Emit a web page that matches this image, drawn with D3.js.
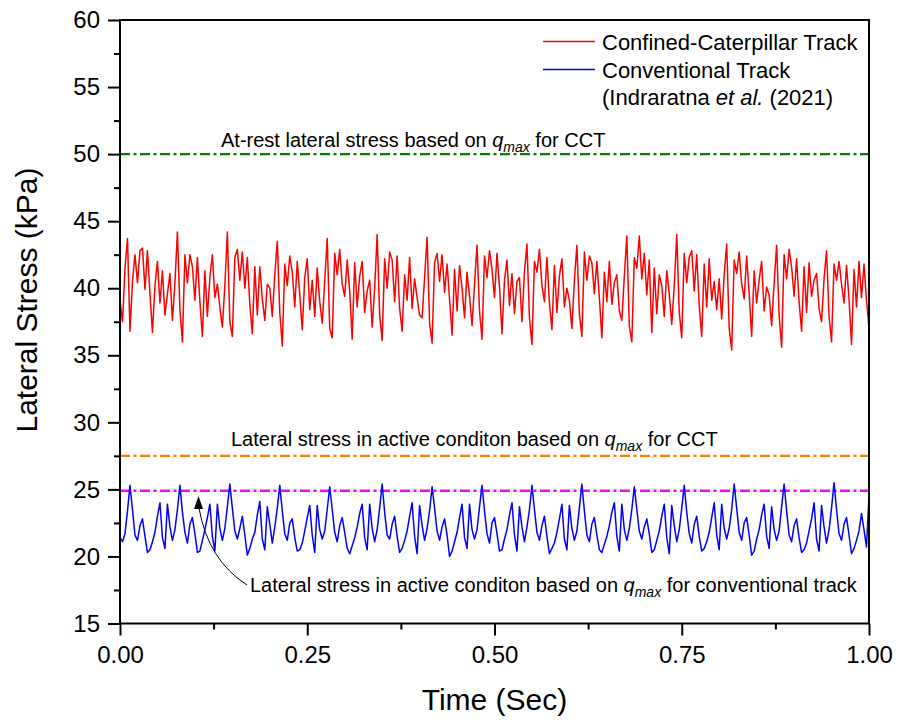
<!DOCTYPE html>
<html>
<head>
<meta charset="utf-8">
<script src="https://cdn.jsdelivr.net/npm/d3@7"></script>
<style>
  body { margin: 0; background: #fff; }
  svg text { font-family: "Liberation Sans", Arial, sans-serif; fill: #000; }
</style>
</head>
<body>
<div id="chart"></div>
<script>
// lateral stress (kPa), sampled evenly over 0..1 s
var redValues = [
  39.1, 37.5, 41.5,
  43.7, 36.8, 40.5, 42.5, 40.4, 42.8, 43.0, 39.9, 42.8, 39.6, 36.7, 40.2, 42.0, 38.9, 41.3, 38.0, 39.6, 41.1, 37.6, 40.4,
  44.2, 38.4, 36.0, 42.5, 40.4, 42.5, 41.6, 39.1, 42.3, 39.0, 36.4, 41.3, 37.9, 40.8, 42.5, 39.3, 40.3, 38.6, 37.1, 40.2,
  44.2, 37.5, 36.4, 42.3, 42.9, 40.6, 42.7, 40.0, 42.3, 38.8, 36.6, 41.6, 38.0, 41.6, 39.2, 37.6, 40.3, 40.0, 37.9, 41.0,
  43.5, 38.2, 35.7, 41.8, 40.2, 42.4, 41.2, 38.6, 42.0, 39.5, 36.9, 40.8, 42.2, 38.4, 40.6, 37.9, 41.5, 39.0, 37.4, 40.5,
  43.7, 37.0, 36.3, 42.6, 41.0, 42.9, 40.3, 39.4, 42.1, 39.8, 36.2, 41.9, 38.6, 40.9, 42.0, 38.2, 39.8, 40.6, 37.1, 40.0,
  44.0, 38.0, 36.1, 42.2, 40.0, 42.7, 42.1, 39.0, 42.4, 38.5, 36.8, 41.0, 39.1, 42.3, 38.5, 40.7, 39.3, 38.0, 37.8, 40.8,
  43.8, 37.4, 35.9, 41.9, 42.6, 40.5, 42.5, 39.7, 41.8, 39.2, 36.5, 41.4, 38.3, 41.7, 40.0, 37.8, 41.2, 39.4, 37.2, 40.3,
  43.2, 38.3, 36.2, 42.4, 40.8, 42.8, 41.4, 39.3, 42.6, 40.1, 36.6, 40.6, 42.1, 38.7, 41.1, 38.1, 40.5, 40.8, 37.5, 41.2,
  43.3, 37.8, 35.8, 42.0, 41.2, 42.9, 40.2, 39.0, 42.3, 38.9, 36.9, 41.7, 38.2, 40.9, 42.2, 38.6, 40.0, 39.1, 37.0, 40.6,
  43.2, 38.1, 36.4, 42.7, 40.6, 42.4, 41.9, 39.6, 42.0, 39.3, 36.3, 41.2, 39.0, 42.0, 38.8, 40.4, 41.0, 38.3, 37.6, 40.9,
  43.9, 37.2, 36.0, 42.3, 41.5, 43.9, 40.7, 42.6, 39.5, 42.1, 36.7, 41.5, 38.1, 41.0, 40.2, 37.9, 41.3, 39.6, 37.3, 40.2,
  44.0, 38.2, 36.3, 42.6, 40.4, 42.3, 42.8, 39.8, 42.5, 38.7, 36.4, 41.8, 38.6, 42.2, 39.1, 40.5, 38.4, 40.7, 37.7, 41.0,
  43.3, 37.0, 35.4, 42.1, 41.1, 42.7, 40.3, 39.2, 42.4, 39.6, 36.4, 41.3, 38.9, 40.6, 42.0, 38.3, 40.1, 39.5, 37.2, 40.4,
  43.2, 38.0, 35.6, 42.5, 40.7, 42.9, 41.6, 39.4, 42.2, 39.0, 36.8, 41.6, 38.2, 41.9, 39.4, 40.6, 41.1, 38.5, 37.5, 40.7,
  42.8, 37.9, 36.0, 41.8, 40.6, 42.0, 40.3, 38.9, 41.7, 39.2, 35.8, 41.4, 38.6, 42.0, 39.3, 41.8, 39.1, 37.0
];

var blueValues = [
  21.4, 21.1, 21.7, 23.4,
  25.3, 23.5, 21.6, 21.2, 22.3, 22.8, 21.5, 20.3, 20.5, 21.1, 21.8, 23.0, 24.0, 21.4, 20.6, 23.9, 22.2, 21.2, 22.0, 23.5,
  25.3, 23.3, 21.8, 21.0, 22.4, 22.9, 21.7, 20.3, 20.4, 21.2, 22.0, 22.9, 23.9, 21.5, 20.4, 23.9, 22.1, 21.2, 22.1, 23.7,
  25.4, 23.6, 21.9, 21.3, 22.1, 23.0, 21.6, 20.1, 20.6, 21.3, 21.8, 23.1, 24.1, 21.3, 20.5, 23.7, 22.4, 21.0, 22.2, 23.6,
  25.3, 23.4, 21.7, 21.2, 22.5, 22.8, 21.4, 20.4, 20.5, 21.0, 21.9, 22.9, 23.8, 21.6, 20.3, 23.8, 22.0, 21.3, 21.9, 23.5,
  25.2, 23.5, 21.8, 21.1, 22.3, 22.9, 21.8, 20.6, 20.2, 20.8, 21.4, 22.2, 23.2, 23.9, 21.4, 20.5, 23.9, 22.1, 21.1, 22.0, 23.6,
  25.4, 23.3, 21.6, 21.3, 22.4, 23.0, 21.5, 20.3, 20.6, 21.2, 21.9, 23.0, 24.0, 21.5, 20.2, 23.8, 22.3, 21.2, 22.1, 23.4,
  25.2, 23.6, 21.9, 21.2, 22.2, 22.8, 21.6, 20.0, 20.4, 21.1, 21.8, 22.9, 23.9, 21.4, 20.6, 23.9, 22.0, 21.3, 22.0, 23.7,
  25.3, 23.4, 21.7, 21.0, 22.5, 22.9, 21.7, 20.4, 20.5, 21.3, 22.0, 23.1, 24.0, 21.6, 20.4, 23.7, 22.2, 21.1, 22.2, 23.5,
  25.3, 23.5, 21.8, 21.2, 22.3, 23.0, 21.5, 20.2, 20.6, 21.0, 21.8, 22.8, 23.9, 21.3, 20.5, 23.8, 22.1, 21.2, 21.9, 23.6,
  25.4, 23.4, 21.6, 21.1, 22.4, 22.9, 21.6, 20.5, 20.3, 20.9, 21.5, 22.3, 23.3, 24.0, 21.5, 20.4, 23.9, 22.0, 21.2, 22.1, 23.5,
  25.2, 23.5, 21.9, 21.3, 22.2, 22.8, 21.7, 20.3, 20.5, 21.2, 21.9, 23.0, 23.9, 21.4, 20.2, 23.8, 22.3, 21.1, 22.0, 23.6,
  25.3, 23.3, 21.7, 21.0, 22.4, 23.0, 21.5, 20.4, 20.6, 21.1, 21.8, 22.9, 24.0, 21.6, 20.5, 23.9, 22.1, 21.3, 22.1, 23.5,
  25.4, 23.6, 21.8, 21.2, 22.5, 22.9, 21.6, 20.1, 20.4, 21.3, 22.0, 23.1, 23.9, 21.5, 20.6, 23.7, 22.0, 21.2, 21.9, 23.7,
  25.4, 23.4, 21.6, 21.1, 22.3, 22.8, 21.4, 20.3, 20.5, 21.0, 21.9, 22.8, 24.0, 21.3, 20.4, 23.8, 22.2, 21.0, 22.0, 23.6,
  25.5, 23.5, 21.7, 21.2, 22.4, 22.9, 21.6, 20.2, 20.6, 21.2, 21.9, 23.2, 22.0, 20.7, 24.5
];

var refLevels = [50, 27.5, 24.9];
var refColors = ["#008000", "#ff8000", "#ff00ff"];

var yTicks = [15, 20, 25, 30, 35, 40, 45, 50, 55, 60];
var yMinor = [17.5, 22.5, 27.5, 32.5, 37.5, 42.5, 47.5, 52.5, 57.5];
var xTicks = [0, 0.25, 0.5, 0.75, 1];
var xMinor = [0.125, 0.375, 0.625, 0.875];

var legendNames = ["Confined-Caterpillar Track", "Conventional Track"];

var width = 898, height = 722;
var padding = {left: 120, right: 29, top: 20, bottom: 98.5};

var svg = d3.select("#chart")
            .append("svg")
              .attr("width", width)
              .attr("height", height);

var xScale = d3.scaleLinear()
               .domain([0, 1])
               .range([padding.left, width - padding.right]);
var yScale = d3.scaleLinear()
               .domain([15, 60])
               .range([height - padding.bottom, padding.top]);

function tIndex(arr) {
  return (d, i) => xScale(i / (arr.length - 1));
}

// reference lines
svg.selectAll(".ref")
   .data(refLevels)
   .enter()
   .append("line")
     .attr("class", "ref")
     .attr("x1", xScale(0))
     .attr("x2", xScale(1))
     .attr("y1", d => yScale(d))
     .attr("y2", d => yScale(d))
     .attr("stroke", (d, i) => refColors[i])
     .attr("stroke-width", 2.4)
     .attr("stroke-dasharray", "10,3.5,3,3.5");

// series
var redLine = d3.line().x(tIndex(redValues)).y(d => yScale(d));
var blueLine = d3.line().x(tIndex(blueValues)).y(d => yScale(d));

svg.append("path")
   .attr("d", redLine(redValues))
   .attr("fill", "none")
   .attr("stroke", "#ff0000")
   .attr("stroke-width", 1.5)
   .attr("stroke-linejoin", "round");

svg.append("path")
   .attr("d", blueLine(blueValues))
   .attr("fill", "none")
   .attr("stroke", "#0000ff")
   .attr("stroke-width", 1.5)
   .attr("stroke-linejoin", "round");

// frame
svg.append("rect")
   .attr("x", xScale(0))
   .attr("y", yScale(60))
   .attr("width", xScale(1) - xScale(0))
   .attr("height", yScale(15) - yScale(60))
   .attr("fill", "none")
   .attr("stroke", "#000")
   .attr("stroke-width", 2);

// axes
svg.append("g")
   .attr("class", "axis")
   .attr("transform", "translate(" + xScale(0) + ",0)")
   .call(d3.axisLeft(yScale).tickValues(yTicks).tickSize(12).tickPadding(8));
svg.append("g")
   .attr("transform", "translate(" + xScale(0) + ",0)")
   .call(d3.axisLeft(yScale).tickValues(yMinor).tickSize(6).tickFormat(""));

svg.append("g")
   .attr("class", "axis")
   .attr("transform", "translate(0," + yScale(15) + ")")
   .call(d3.axisBottom(xScale).tickValues(xTicks).tickSize(12).tickPadding(10).tickFormat(d3.format(".2f")));
svg.append("g")
   .attr("transform", "translate(0," + yScale(15) + ")")
   .call(d3.axisBottom(xScale).tickValues(xMinor).tickSize(6).tickFormat(""));

svg.selectAll(".domain").remove();
svg.selectAll(".tick line").attr("stroke", "#000").attr("stroke-width", 2);
svg.selectAll(".axis text")
   .style("font-family", "'Liberation Sans', Arial, sans-serif")
   .style("font-size", "24px")
   .attr("fill", "#000");

// axis titles
svg.append("text")
   .attr("transform", "translate(37,300) rotate(-90)")
   .attr("text-anchor", "middle")
   .style("font-size", "30px")
   .text("Lateral Stress (kPa)");

svg.append("text")
   .attr("x", (xScale(0) + xScale(1)) / 2)
   .attr("y", 710)
   .attr("text-anchor", "middle")
   .style("font-size", "30px")
   .text("Time (Sec)");

// annotations with q_max
function qmaxLabel(x, y, before, after) {
  var t = svg.append("text")
     .attr("x", x)
     .attr("y", y)
     .style("font-size", "20px");
  t.append("tspan").text(before);
  t.append("tspan").style("font-style", "italic").text("q");
  t.append("tspan").style("font-style", "italic").style("font-size", "14px")
   .attr("dy", 5).text("max");
  t.append("tspan").attr("dy", -5).text(after);
}
qmaxLabel(221, 146.5, "At-rest lateral stress based on ", " for CCT");
qmaxLabel(231, 446, "Lateral stress in active conditon based on ", " for CCT");
qmaxLabel(250, 591.5, "Lateral stress in active conditon based on ", " for conventional track");

// arrow
svg.append("path")
   .attr("d", "M247,585 Q208,560 199,508")
   .attr("fill", "none")
   .attr("stroke", "#000")
   .attr("stroke-width", 1);
svg.append("path")
   .attr("d", "M198.5,496 L194,509 L203,509 Z")
   .attr("fill", "#000");

// legend
var legendColors = ["#ff0000", "#0000ff"];
var legend = svg.selectAll(".legend")
   .data(legendNames)
   .enter()
   .append("g")
     .attr("class", "legend")
     .attr("transform", (d, i) => "translate(0," + (41.5 + i * 28) + ")");
legend.append("line")
   .attr("x1", 543).attr("x2", 595)
   .attr("y1", 0).attr("y2", 0)
   .attr("stroke", (d, i) => legendColors[i])
   .attr("stroke-width", 1.5);
legend.append("text")
   .attr("x", 602)
   .attr("y", 8)
   .style("font-size", "22px")
   .text(d => d);

var cite = svg.append("text")
   .attr("x", 602)
   .attr("y", 105)
   .style("font-size", "22px");
cite.append("tspan").text("(Indraratna ");
cite.append("tspan").style("font-style", "italic").text("et al.");
cite.append("tspan").text(" (2021)");
</script>
</body>
</html>
